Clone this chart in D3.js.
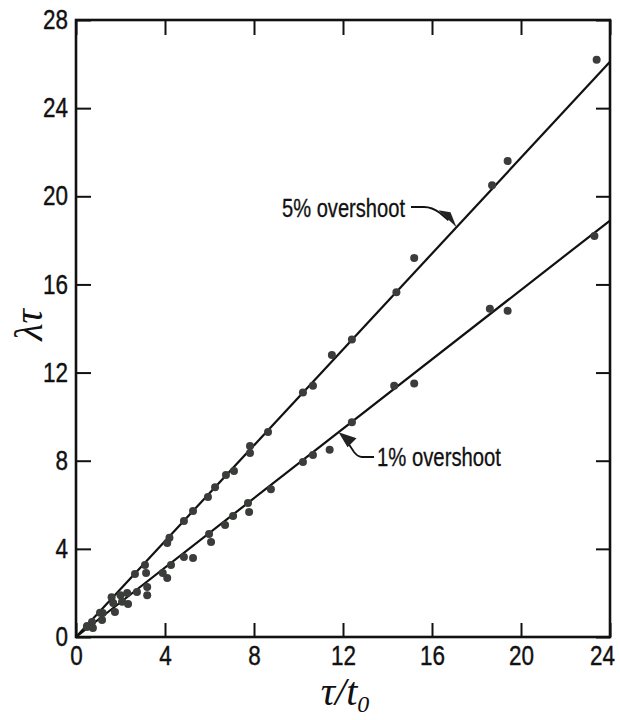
<!DOCTYPE html>
<html>
<head>
<meta charset="utf-8">
<script src="https://cdn.jsdelivr.net/npm/d3@7"></script>
<style>
  body { margin: 0; background: #fff; }
  svg { display: block; }
</style>
</head>
<body>
<svg id="chart" width="620" height="720"></svg>
<script>
// ---- data ----
const xTicks = [0, 4, 8, 12, 16, 20, 24];
const yTicks = [0, 4, 8, 12, 16, 20, 24, 28];

// 5% overshoot data points [tau/t0, lambda*tau]
const overshoot5 = [
  [0.5,0.5],[0.72,0.68],[1.08,1.1],[1.6,1.8],[2.0,1.9],[2.65,2.86],[3.1,3.27],[3.15,2.9],
  [4.1,4.27],[4.2,4.5],[4.85,5.26],[5.26,5.72],[5.93,6.35],[6.25,6.8],[6.74,7.35],[7.1,7.53],
  [7.82,8.35],[7.82,8.67],[8.63,9.3],[10.2,11.1],[10.65,11.4],[11.5,12.8],[12.4,13.5],
  [14.4,15.65],[15.2,17.2],[18.7,20.5],[19.4,21.6],[23.4,26.2]
];
// 1% overshoot data points
const overshoot1 = [
  [0.49,0.45],[0.76,0.41],[1.17,0.77],[1.2,1.09],[1.75,1.13],[1.67,1.54],[2.07,1.6],[2.34,1.5],
  [2.3,2.0],[2.74,2.04],[3.2,1.9],[3.2,2.27],[4.1,2.68],[3.9,2.9],[4.27,3.27],[4.85,3.63],
  [5.26,3.58],[6.07,4.31],[5.98,4.67],[6.7,5.08],[7.06,5.49],[7.78,5.67],[7.73,6.08],[8.76,6.7],
  [10.2,7.94],[10.65,8.26],[11.4,8.5],[12.4,9.75],[14.3,11.4],[15.2,11.5],[18.6,14.9],[19.4,14.8],
  [23.3,18.2]
];
// fitted lines
const fit5 = [[0,0],[24,26.1]];
const fit1 = [[0,0],[24,18.9]];
const labels = ['5% overshoot', '1% overshoot'];

// ---- layout ----
const L = 76, R = 610, T = 20, B = 637;
const svg = d3.select('#chart');
const x = d3.scaleLinear().domain([0, 24]).range([L, R]);
const y = d3.scaleLinear().domain([0, 28]).range([B, T]);
const ink = '#111';
const sans = "'Liberation Sans', Arial, sans-serif";

// axes with inward ticks
const gB = svg.append('g').attr('transform', `translate(0,${B})`)
  .call(d3.axisBottom(x).tickValues(xTicks).tickSize(-14).tickPadding(9).tickFormat(d3.format('d')));
const gL = svg.append('g').attr('transform', `translate(${L},0)`)
  .call(d3.axisLeft(y).tickValues(yTicks).tickSize(-15).tickPadding(8).tickFormat(d3.format('d')));
const gT = svg.append('g').attr('transform', `translate(0,${T})`)
  .call(d3.axisTop(x).tickValues(xTicks).tickSize(-15).tickFormat(''));
const gR = svg.append('g').attr('transform', `translate(${R},0)`)
  .call(d3.axisRight(y).tickValues(yTicks).tickSize(-14).tickFormat(''));
[gB, gL, gT, gR].forEach(g => {
  g.select('.domain').remove();
  g.selectAll('.tick line').attr('stroke', ink).attr('stroke-width', 2);
});
[gB, gL].forEach(g => {
  g.selectAll('.tick text')
    .style('font-family', sans).style('font-size', '27px').attr('fill', ink)
    .attr('stroke', ink).attr('stroke-width', 0.4)
    .attr('lengthAdjust', 'spacingAndGlyphs')
    .attr('textLength', function () { return this.textContent.length * 12.5; });
});
gB.selectAll('.tick text').filter(d => d === 24).attr('dx', -8);

// frame
svg.append('rect').attr('x', L).attr('y', T).attr('width', R - L).attr('height', B - T)
  .attr('fill', 'none').attr('stroke', ink).attr('stroke-width', 2.6);

// fitted lines
const line = d3.line().x(d => x(d[0])).y(d => y(d[1]));
[fit5, fit1].forEach(f => {
  svg.append('path').attr('d', line(f)).attr('fill', 'none')
    .attr('stroke', ink).attr('stroke-width', 2.2);
});

// points
[overshoot5, overshoot1].forEach(s => {
  svg.append('g').selectAll('circle').data(s).join('circle')
    .attr('cx', d => x(d[0])).attr('cy', d => y(d[1])).attr('r', 4)
    .attr('fill', '#3a3d3a');
});

// annotations
svg.append('text').attr('x', 282).attr('y', 217).style('font-family', sans)
  .style('font-size', '26px').attr('fill', ink).attr('stroke', ink).attr('stroke-width', 0.3)
  .attr('lengthAdjust', 'spacingAndGlyphs').attr('textLength', 123).text(labels[0]);
svg.append('text').attr('x', 377).attr('y', 466).style('font-family', sans)
  .style('font-size', '26px').attr('fill', ink).attr('stroke', ink).attr('stroke-width', 0.3)
  .attr('lengthAdjust', 'spacingAndGlyphs').attr('textLength', 124).text(labels[1]);

// arrows (leader lines) pointing at the fitted lines
const tip5 = [x(17.1), y(17.1 * 26.1 / 24)];
const tip1 = [x(11.8), y(11.8 * 18.9 / 24)];
svg.append('path')
  .attr('d', `M411,207 L424,207 Q432,207 440,213 L${tip5[0] - 8},${tip5[1] - 7}`)
  .attr('fill', 'none').attr('stroke', ink).attr('stroke-width', 1.8);
svg.append('path')
  .attr('d', `M${tip5[0]},${tip5[1]} L${tip5[0] - 18},${tip5[1] - 17} L${tip5[0] - 6},${tip5[1] - 15} Z`)
  .attr('fill', '#222');
svg.append('path')
  .attr('d', `M374,457 L362,457 Q358,457 354,452 L${tip1[0] + 7},${tip1[1] + 7}`)
  .attr('fill', 'none').attr('stroke', ink).attr('stroke-width', 1.8);
svg.append('path')
  .attr('d', `M${tip1[0]},${tip1[1]} L${tip1[0] + 18},${tip1[1] + 6} L${tip1[0] + 9},${tip1[1] + 15} Z`)
  .attr('fill', '#222');

// axis titles
svg.append('text').attr('transform', 'translate(42,325) rotate(-90)')
  .attr('text-anchor', 'middle').style('font-family', "'Liberation Serif', 'DejaVu Serif', serif")
  .style('font-style', 'italic').style('font-size', '40px').attr('fill', ink).text('λτ');
const xt = svg.append('text').attr('x', 345).attr('y', 705).attr('text-anchor', 'middle')
  .style('font-family', "'Liberation Serif', 'DejaVu Serif', serif")
  .style('font-style', 'italic').style('font-size', '40px').attr('fill', ink);
xt.append('tspan').text('τ/t');
xt.append('tspan').style('font-size', '24px').attr('dy', 7).text('0');
</script>
</body>
</html>
